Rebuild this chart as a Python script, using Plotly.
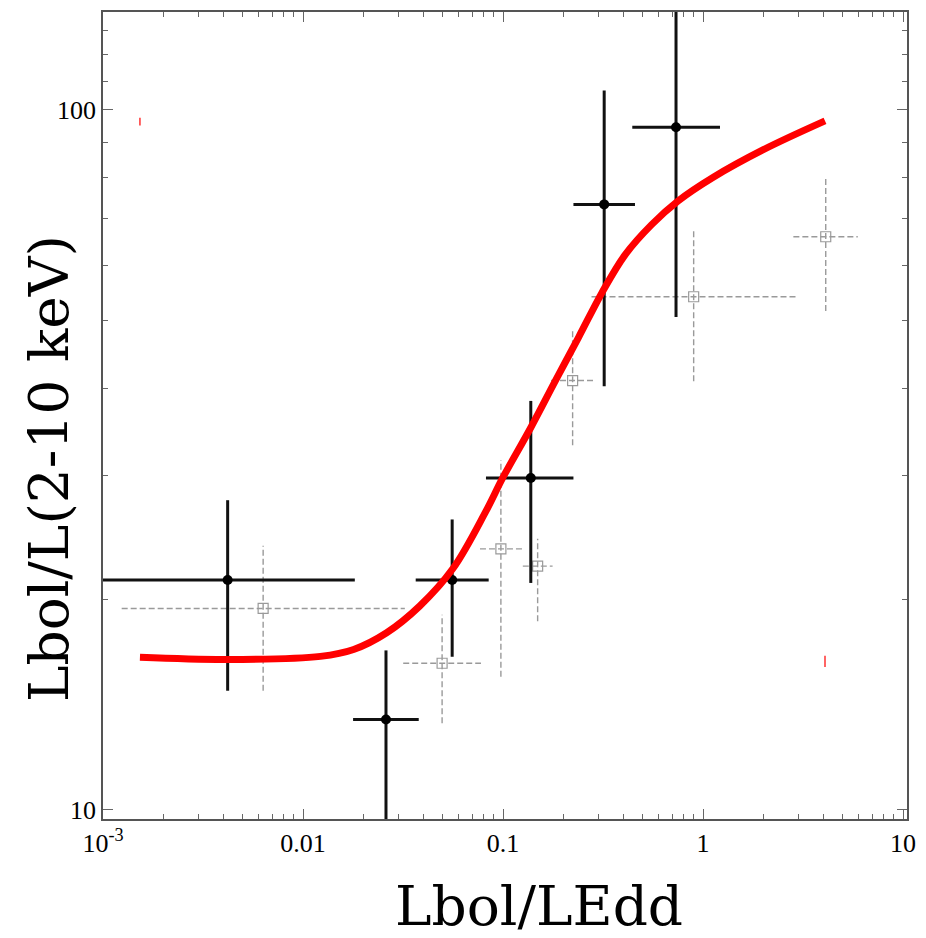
import plotly.graph_objects as go

# ---- data ----
# black filled points
bx = [0.0042, 0.026, 0.0557, 0.1377, 0.3206, 0.733]
by = [21.3, 13.46, 21.3, 29.8, 73.3, 94.5]
bx_lo = [0.0009, 0.0178, 0.0366, 0.0822, 0.225, 0.443]
bx_hi = [0.01816, 0.0379, 0.0848, 0.225, 0.457, 1.216]
by_lo = [14.8, 9.0, 16.55, 21.1, 40.3, 50.6]
by_hi = [27.7, 16.9, 26.0, 38.4, 106.6, 160.0]

# grey open squares
gx = [0.00632, 0.0496, 0.0976, 0.149, 0.2229, 0.898, 4.108]
gy = [19.4, 16.2, 23.6, 22.3, 41.06, 54.1, 65.9]
gx_lo = [0.00124, 0.0317, 0.0767, 0.1256, 0.1738, 0.277, 2.83]
gx_hi = [0.0323, 0.0776, 0.1256, 0.177, 0.2828, 2.908, 5.94]
gy_lo = [14.8, 13.3, 15.5, 18.6, 33.2, 40.96, 51.6]
gy_hi = [23.85, 19.0, 31.6, 24.4, 48.7, 67.4, 80.2]

# red model curve
cx = [0.00153, 0.0042, 0.01222, 0.01791, 0.0262, 0.0383, 0.0562, 0.0822,
      0.0995, 0.1376, 0.1832, 0.2391, 0.3125, 0.4077, 0.5535, 0.7503,
      1.126, 2.003, 4.074]
cy = [16.52, 16.4, 16.57, 16.95, 17.91, 19.55, 22.12, 26.72,
      29.78, 35.16, 41.09, 47.38, 54.83, 62.09, 68.58, 74.13,
      80.15, 87.75, 96.47]

# tiny red stray marks
sx = [0.00153, 4.074]
sy_lo = [95.0, 16.0]
sy_hi = [97.5, 16.6]

x_ticks = [0.001, 0.01, 0.1, 1, 10]
x_ticktext = ["10<sup>-3</sup>", "0.01", "0.1", "1", "10"]
y_ticks = [10, 100]
y_ticktext = ["10", "100"]


def segs(xa, xb, ya, yb):
    xs, ys = [], []
    for a, b, c, d in zip(xa, xb, ya, yb):
        xs += [a, b, None]
        ys += [c, d, None]
    return xs, ys


fig = go.Figure()

# grey dashed error bars
hx, hy = segs(gx_lo, gx_hi, gy, gy)
vx, vy = segs(gx, gx, gy_lo, gy_hi)
fig.add_trace(go.Scatter(x=hx + vx, y=hy + vy, mode="lines",
                         line=dict(color="#9a9a9a", width=1.4, dash="6px,3px"),
                         hoverinfo="skip", showlegend=False))
fig.add_trace(go.Scatter(x=gx, y=gy, mode="markers",
                         marker=dict(symbol="square-open", size=10, color="#9a9a9a",
                                     line=dict(width=1.2, color="#9a9a9a")),
                         showlegend=False))

# black error bars
hx, hy = segs(bx_lo, bx_hi, by, by)
vx, vy = segs(bx, bx, by_lo, by_hi)
fig.add_trace(go.Scatter(x=hx + vx, y=hy + vy, mode="lines",
                         line=dict(color="#111111", width=3),
                         hoverinfo="skip", showlegend=False))
fig.add_trace(go.Scatter(x=bx, y=by, mode="markers",
                         marker=dict(symbol="circle", size=10, color="black"),
                         showlegend=False))

# red curve
fig.add_trace(go.Scatter(x=cx, y=cy, mode="lines",
                         line=dict(color="#ff0000", width=7, shape="spline", smoothing=1.0),
                         showlegend=False))

# stray red marks
mx, my = segs(sx, sx, sy_lo, sy_hi)
fig.add_trace(go.Scatter(x=mx, y=my, mode="lines",
                         line=dict(color="#ff3030", width=1.5),
                         hoverinfo="skip", showlegend=False))

minor_x = [m * 10 ** e for e in range(-3, 1) for m in range(2, 10)] + [20]
minor_y = [m * 10 for m in range(2, 10)] + [110, 120, 130]

axis_common = dict(
    showline=True, linecolor="#555555", linewidth=1.5, mirror="ticks",
    ticks="inside", ticklen=10, tickwidth=1.2, tickcolor="#666666",
    showgrid=False, zeroline=False,
    tickfont=dict(family="Liberation Serif", size=26, color="black"),
)

fig.update_xaxes(type="log", range=[-3.0, 1.02],
                 tickmode="array", tickvals=x_ticks, ticktext=x_ticktext,
                 minor=dict(tickmode="array", tickvals=minor_x, ticks="inside",
                            ticklen=5, tickwidth=1, tickcolor="#666666", showgrid=False),
                 **axis_common)
fig.update_yaxes(type="log", range=[0.987, 2.14],
                 tickmode="array", tickvals=y_ticks, ticktext=y_ticktext,
                 minor=dict(tickmode="array", tickvals=minor_y, ticks="inside",
                            ticklen=5, tickwidth=1, tickcolor="#666666", showgrid=False),
                 **axis_common)

fig.add_annotation(text="Lbol/LEdd", xref="paper", yref="paper",
                   x=0.5427, y=-0.108, xanchor="center", yanchor="middle",
                   showarrow=False,
                   font=dict(family="DejaVu Serif", size=55, color="black"))
fig.add_annotation(text="Lbol/L(2-10 keV)", xref="paper", yref="paper",
                   x=-0.068, y=0.434, xanchor="center", yanchor="middle",
                   textangle=-90, showarrow=False,
                   font=dict(family="DejaVu Serif", size=55, color="black"))

fig.update_layout(width=926, height=938,
                  margin=dict(l=103, r=14, t=10, b=119),
                  paper_bgcolor="white", plot_bgcolor="white")

fig.write_html("out.html")
